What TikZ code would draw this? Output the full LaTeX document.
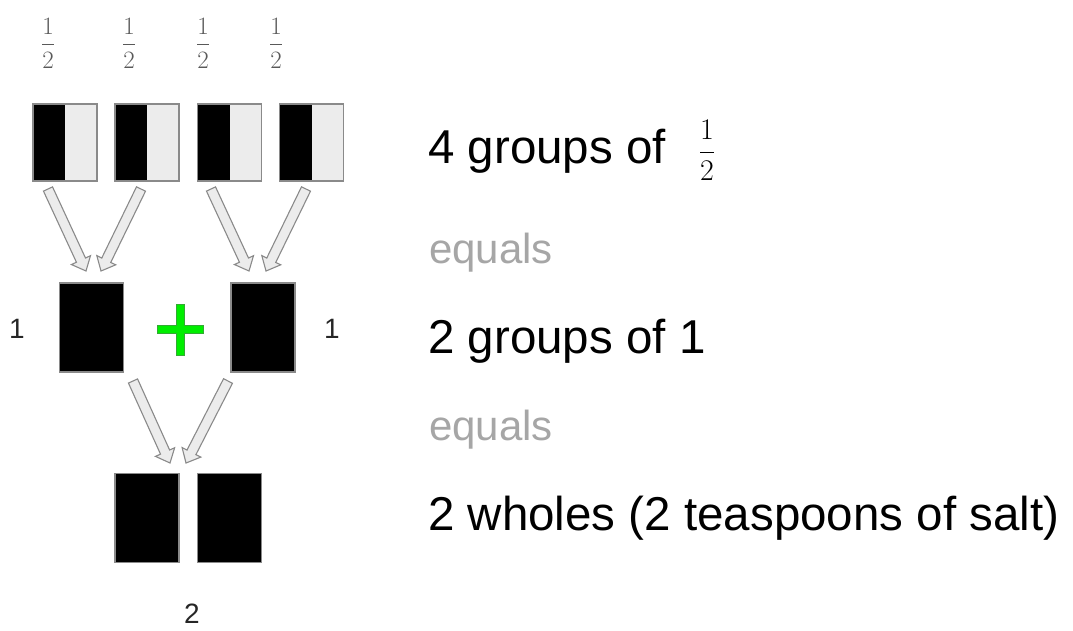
\RequirePackage{fix-cm}
\documentclass[tikz,border=0pt]{standalone}
\usepackage{fontspec}
\setmainfont{Liberation Sans}
\usetikzlibrary{calc}
\definecolor{halfgray}{HTML}{ECECEC}
\definecolor{edgegray}{HTML}{8A8A8A}
\definecolor{fracgray}{HTML}{595959}
\definecolor{eqgray}{HTML}{A6A6A6}
\definecolor{plusgreen}{HTML}{00EE00}
\definecolor{plusedge}{HTML}{33AA33}
\newcommand{\blockarr}[2]{%
  \coordinate (bh) at ($(#2)!12pt!(#1)$);
  \filldraw[blockarrow] ($(#1)!5pt!90:(#2)$) -- ($(bh)!5pt!90:(#2)$) -- ($(bh)!10.5pt!90:(#2)$) -- (#2) -- ($(bh)!10.5pt!-90:(#2)$) -- ($(bh)!5pt!-90:(#2)$) -- ($(#1)!5pt!-90:(#2)$) -- cycle;}
\tikzset{
  halfbox/.style={draw=edgegray, line width=1.2pt, fill=halfgray, minimum width=64pt, minimum height=77pt, inner sep=0pt,
    path picture={\fill[black] (path picture bounding box.south west) rectangle (path picture bounding box.north);}},
  wholebox/.style={draw=edgegray, line width=1.2pt, fill=black, minimum width=64pt, minimum height=89pt, inner sep=0pt},
  blockarrow/.style={fill=halfgray, draw=edgegray, line width=1.1pt, line join=miter},
  fraclabel/.style={text=fracgray, font=\fontsize{25}{28}\selectfont, inner sep=0pt},
  numlabel/.style={text=black!85, font=\fontsize{28}{32}\selectfont, inner sep=0pt},
  mainlabel/.style={text=black, font=\fontsize{47.5}{52}\selectfont, anchor=base west, inner sep=0pt},
  eqlabel/.style={text=eqgray, font=\fontsize{42}{48}\selectfont, anchor=base west, inner sep=0pt},
  plusbar/.style={fill=plusgreen, draw=plusedge, line width=0.6pt}
}
\begin{document}
\begin{tikzpicture}[x=1pt, y=-1pt]
\useasboundingbox (0,0) rectangle (1073,630);
% fractions on top
\node[fraclabel] (f1) at (48,43) {$\displaystyle\frac{1}{2}$};
\node[fraclabel] (f2) at (129,43) {$\displaystyle\frac{1}{2}$};
\node[fraclabel] (f3) at (203,43) {$\displaystyle\frac{1}{2}$};
\node[fraclabel] (f4) at (276,43) {$\displaystyle\frac{1}{2}$};
% half boxes
\node[halfbox] (h1) at (65,142.5) {};
\node[halfbox] (h2) at (147,142.5) {};
\node[halfbox] (h3) at (229.5,142.5) {};
\node[halfbox] (h4) at (311.5,142.5) {};
% middle wholes
\node[wholebox] (m1) at (91.5,327.5) {};
\node[wholebox] (m2) at (263,327.5) {};
% bottom wholes
\node[wholebox] (b1) at (147,518) {};
\node[wholebox] (b2) at (229.5,518) {};
% arrow ends
\coordinate (a1s) at (48,189); \coordinate (a1t) at (86,271);
\coordinate (a2s) at (141,189); \coordinate (a2t) at (101,271);
\coordinate (a3s) at (211,189); \coordinate (a3t) at (249,271);
\coordinate (a4s) at (306,189); \coordinate (a4t) at (266,271);
\coordinate (a5s) at (133,381); \coordinate (a5t) at (170,463);
\coordinate (a6s) at (228,381); \coordinate (a6t) at (186,463);
\blockarr{a1s}{a1t}
\blockarr{a2s}{a2t}
\blockarr{a3s}{a3t}
\blockarr{a4s}{a4t}
\blockarr{a5s}{a5t}
\blockarr{a6s}{a6t}
% plus sign
\node[inner sep=0pt, minimum size=0pt] (plus) at (180,329.5) {};
\filldraw[plusbar] (157,325.5) -- (176,325.5) -- (176,304) -- (184,304) -- (184,325.5) -- (203,325.5) -- (203,333.5) -- (184,333.5) -- (184,355) -- (176,355) -- (176,333.5) -- (157,333.5) -- cycle;
% numeric labels
\node[numlabel] (l1) at (17,329) {1};
\node[numlabel] (r1) at (332,329) {1};
\node[numlabel] (two) at (192,614) {2};
% right text
\node[mainlabel] (t1) at (428,163) {4 groups of};
\node[text=black, font=\fontsize{30}{34}\selectfont, inner sep=0pt] (t1f) at (707,150) {$\displaystyle\frac{1}{2}$};
\node[eqlabel] (e1) at (429,263) {equals};
\node[mainlabel] (t2) at (428,353) {2 groups of 1};
\node[eqlabel] (e2) at (429,440) {equals};
\node[mainlabel] (t3) at (428,530) {2 wholes (2 teaspoons of salt)};
\end{tikzpicture}
\end{document}
